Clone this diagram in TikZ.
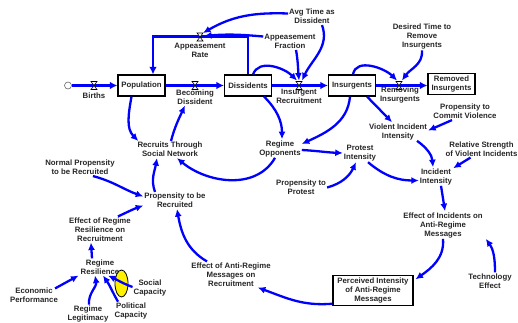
\documentclass[tikz,border=0pt]{standalone}
\usepackage{fontspec}
\setmainfont{Liberation Sans}
\usetikzlibrary{arrows.meta}

\newcommand{\flowvalve}[1]{\draw[valve] ([shift={(-3,4)}]#1) -- ++(6,0) -- ++(-6,-8) -- ++(6,0) -- cycle;}

\begin{document}
\begin{tikzpicture}[x=1pt, y=1pt,
  every node/.style={font=\bfseries\fontsize{7.8}{9}\selectfont, text=black!85, align=center, inner sep=1pt},
  stock/.style={draw=black, line width=1.1pt, fill=white, minimum width=47pt, minimum height=21pt, inner sep=2pt},
  link/.style={draw=blue, line width=2.3pt, -{Latex[length=7.5pt,width=7pt]}},
  flow/.style={draw=blue, line width=2.6pt, -{Latex[length=7.5pt,width=7.5pt]}},
  valve/.style={draw=black, fill=white, line width=0.6pt}]

\useasboundingbox (0,0) rectangle (518,-322);

% stocks
\node[stock] (pop) at (141.5,-85.5) {Population};
\node[stock] (diss) at (248,-85.5) {Dissidents};
\node[stock] (ins) at (352,-85.5) {Insurgents};
\node[stock] (rem) at (451.5,-84) {Removed\\Insurgents};
\node[stock, minimum width=80pt, minimum height=29pt] (pim) at (373,-290.5) {Perceived Intensity\\of Anti-Regime\\Messages};
\node[draw=black!60, circle, minimum size=7pt, inner sep=0pt, line width=0.6pt] (src) at (68,-85.5) {};

% flows
\coordinate (vbir) at (94,-85.5);
\coordinate (vbd) at (195,-85.5);
\coordinate (var) at (200,-37);
\coordinate (vir) at (299,-85.5);
\coordinate (vri) at (399,-85.5);
\draw[flow] (src.east) -- (pop.west);
\draw[flow] (pop.east) -- (diss.west);
\draw[flow] (diss.east) -- (ins.west);
\draw[flow] (ins.east) -- (ins.east -| rem.west);
\draw[flow] (diss.north) -- ++(0,38) -| ([xshift=11.5]pop.north);
\flowvalve{vbir}
\flowvalve{vbd}
\flowvalve{var}
\flowvalve{vir}
\flowvalve{vri}
\node (bir) at (94,-96) {Births};
\node (bd) at (195,-97) {Becoming\\Dissident};
\node (ar) at (200,-50) {Appeasement\\Rate};
\node (ir) at (299,-96) {Insurgent\\Recruitment};
\node (ri) at (400,-95) {Removing\\Insurgents};

% auxiliaries
\node (avg) at (312,-16.5) {Avg Time as\\Dissident};
\node (af) at (290,-41.5) {Appeasement\\Fraction};
\node (dtr) at (422,-36.5) {Desired Time to\\Remove\\Insurgents};
\node (pcv) at (465,-111.5) {Propensity to\\Commit Violence};
\node (vii) at (398,-131.5) {Violent Incident\\Intensity};
\node (rs) at (481.5,-149) {Relative Strength\\of Violent Incidents};
\node (ii) at (436,-176.5) {Incident\\Intensity};
\node (eim) at (443,-225) {Effect of Incidents on\\Anti-Regime\\Messages};
\node (te) at (490,-281) {Technology\\Effect};
\node (pi) at (360,-153) {Protest\\Intensity};
\node (ptp) at (301,-187.5) {Propensity to\\Protest};
\node (ro) at (280,-148.5) {Regime\\Opponents};
\node (rts) at (170,-149.5) {Recruits Through\\Social Network};
\node (np) at (80,-167.5) {Normal Propensity\\to be Recruited};
\node (pr) at (175,-200.5) {Propensity to be\\Recruited};
\node (err) at (100,-229.5) {Effect of Regime\\Resilience on\\Recruitment};
\node (rr) at (100,-267) {Regime\\Resilience};
\node (ep) at (34,-295) {Economic\\Performance};
\node (rl) at (88,-314) {Regime\\Legitimacy};
\node (pc) at (131,-311) {Political\\Capacity};
\node (sc) at (150,-288) {Social\\Capacity};
\node (ear) at (231,-274.5) {Effect of Anti-Regime\\Messages on\\Recruitment};
\draw[fill=yellow, line width=0.8pt] (121.5,-283.5) ellipse (6.5 and 13.5);

% links
\draw[link] ([xshift=-10]pop.south) to[out=-100, in=135] ([xshift=2]rts.north west);
\draw[link] ([xshift=1]rts.north) to[out=75, in=-115] ([xshift=-10]bd.south);
\draw[link] ([xshift=16]diss.south) to[out=-45, in=90] ([xshift=2]ro.north);
\draw[link] ([xshift=-2]ins.south) to[out=-95, in=25] ([yshift=4.5]ro.east);
\draw[link] ([yshift=-1.5]ro.east) to[out=-3, in=178] (pi.west);
\draw[link] ([xshift=-5]ro.south) to[out=-120, in=-40] ([xshift=7]rts.south);
\draw[link] ([xshift=15]ins.south) -- ([xshift=-6]vii.north);
\draw[link] ([xshift=1]ins.north) to[out=80, in=135] ([shift={(-2,5)}]vri);
\draw[link] ([xshift=5]diss.north) to[out=70, in=135] ([shift={(-2,5)}]vir);
\draw[link] (dtr.south) to[out=-85, in=55] ([shift={(3,5)}]vri);
\draw[link] ([xshift=10]avg.south) to[out=-70, in=65] ([shift={(3,5)}]vir);
\draw[link] ([yshift=3]avg.west) to[out=178, in=30] ([shift={(3,4)}]var);
\draw[link] ([yshift=5]af.west) to[out=175, in=5] ([shift={(4,1)}]var);
\draw[link] ([xshift=6]af.south) to[out=-80, in=95] ([yshift=5]vir);
\draw[link] ([xshift=-13]pcv.south) -- ([yshift=1]vii.east);
\draw[link] ([xshift=19]vii.south) to[out=-35, in=95] ([xshift=-3]ii.north);
\draw[link] ([xshift=-11]rs.south) -- ([yshift=-1]ii.north east);
\draw[link] ([xshift=8]pi.south) to[out=-40, in=180] ([yshift=-4]ii.west);
\draw[link] (ptp.east) to[out=15, in=-115] ([xshift=-4]pi.south);
\draw[link] ([xshift=5]ii.south) -- ([xshift=2]eim.north);
\draw[link] (eim.south) to[out=-85, in=35] ([shift={(2,-4)}]pim.north east);
\draw[link] ([xshift=5]te.north) to[out=90, in=-55] ([xshift=2]eim.south east);
\draw[link] ([yshift=2]pim.south west) to[out=185, in=-20] ([xshift=-14]ear.south east);
\draw[link] ([xshift=-24]ear.north) to[out=150, in=-80] ([xshift=2]pr.south);
\draw[link] ([xshift=-20]pr.north) to[out=110, in=-100] ([xshift=-13]rts.south);
\draw[link] ([xshift=13]np.south) to[out=-15, in=160] ([yshift=4]pr.west);
\draw[link] ([xshift=-14]err.north east) to[out=25, in=200] ([yshift=-5]pr.west);
\draw[link] ([xshift=-8]rr.north) -- ([xshift=-9]err.south);
\draw[link] ([shift={(-4,-2)}]ep.north east) -- ([xshift=-1]rr.south west);
\draw[link] ([xshift=1]rl.north) to[out=95, in=-80] ([xshift=-5]rr.south);
\draw[link] ([xshift=-13]pc.north) to[out=120, in=-55] ([xshift=3]rr.south);
\draw[link] ([yshift=1]sc.west) to[out=160, in=-25] ([xshift=8]rr.south);
\end{tikzpicture}
\end{document}
